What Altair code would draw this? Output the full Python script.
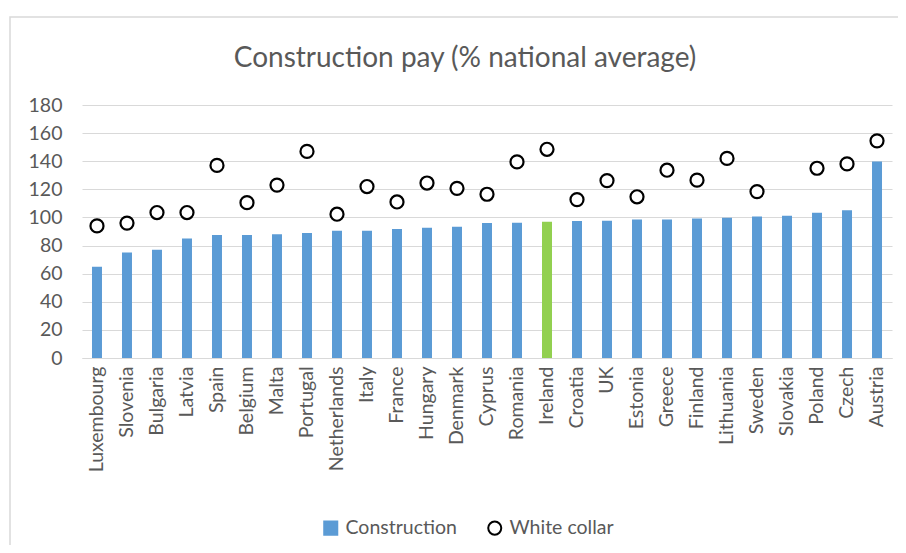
import altair as alt
import pandas as pd

countries = ["Luxembourg", "Slovenia", "Bulgaria", "Latvia", "Spain", "Belgium", "Malta",
             "Portugal", "Netherlands", "Italy", "France", "Hungary", "Denmark", "Cyprus",
             "Romania", "Ireland", "Croatia", "UK", "Estonia", "Greece", "Finland",
             "Lithuania", "Sweden", "Slovakia", "Poland", "Czech", "Austria"]
construction = [65, 75, 77, 85, 87.5, 87.5, 88, 89, 90.5, 90.5, 91.7, 92.6, 93.3, 96,
                96.2, 97, 97.4, 97.6, 98.6, 98.6, 99.3, 99.7, 100.7, 101.2, 103.3, 105.2, 139.8]
white_collar = [94, 96, 103.5, 103.5, 137, 110.5, 123, 147, 102.3, 122, 111, 124.5, 120.7,
                116.5, 139.5, 148.5, 112.7, 126.2, 114.7, 133.6, 126.5, 142, 118.4, None,
                135, 138.1, 154.5]
y_ticks = [0, 20, 40, 60, 80, 100, 120, 140, 160, 180]
series_names = ["Construction", "White collar"]
highlight = "Ireland"

BLUE = "#5B9BD5"
GREEN = "#92D050"
TEXT = "#595959"
GRID = "#D9D9D9"
FONT = "Lato"

bars_df = pd.DataFrame({"country": countries, "value": construction})
pts_df = pd.DataFrame({"country": countries, "value": white_collar,
                       "series": series_names[1]}).dropna()

xaxis = alt.Axis(labelAngle=-90, labelFontSize=19.5, labelColor=TEXT, labelFont=FONT,
                 ticks=False, domainColor=GRID, labelPadding=8, grid=False,
                 labelOverlap=False)
yaxis = alt.Axis(values=y_ticks, tickCount=10, labelFontSize=19.5, labelColor=TEXT,
                 labelFont=FONT, ticks=False, domain=False, gridColor=GRID,
                 labelPadding=20, labelOverlap=False)
xscale = alt.Scale(paddingInner=0.667, paddingOuter=0.333)
yscale = alt.Scale(domain=[0, 180])

bars = alt.Chart(bars_df).mark_bar().encode(
    x=alt.X("country:N", sort=countries, title=None, scale=xscale, axis=xaxis),
    y=alt.Y("value:Q", scale=yscale, title=None, axis=yaxis),
    color=alt.condition(alt.datum.country == highlight, alt.value(GREEN), alt.value(BLUE)),
)

legend = alt.Legend(title=None, orient="none", direction="horizontal", legendX=239,
                    legendY=413, labelFontSize=19.5, labelColor=TEXT, labelFont=FONT,
                    symbolSize=170, symbolStrokeWidth=2, columnPadding=27, labelOffset=5)

points = alt.Chart(pts_df).mark_point(size=170, strokeWidth=2.2, filled=False, opacity=1).encode(
    x=alt.X("country:N", sort=countries, title=None, scale=xscale, axis=xaxis),
    y=alt.Y("value:Q", scale=yscale, title=None, axis=yaxis),
    shape=alt.Shape("series:N", scale=alt.Scale(domain=series_names, range=["square", "circle"]),
                    legend=legend),
    fill=alt.Fill("series:N", scale=alt.Scale(domain=series_names, range=[BLUE, "white"]),
                  legend=legend),
    stroke=alt.Stroke("series:N", scale=alt.Scale(domain=series_names, range=[BLUE, "black"]),
                      legend=legend),
)

frame = alt.Chart(alt.Data(values=[{}])).mark_rect(fill=None, stroke=GRID, strokeWidth=1.5).encode(
    x=alt.value(-72), x2=alt.value(830), y=alt.value(-88), y2=alt.value(460)
)

chart = alt.layer(frame, bars, points).properties(
    width=810, height=253,
    autosize=alt.AutoSizeParams(type="none"),
    padding={"left": 74, "top": 97, "right": 6, "bottom": 187},
    title=alt.TitleParams("Construction pay (% national average)", fontSize=28, color=TEXT,
                          font=FONT, fontWeight="normal", anchor="middle", frame="group",
                          dx=-22, offset=0, dy=57),
).configure_view(stroke=None)

chart.save("out.html", embed_options={"renderer": "svg", "actions": False})
